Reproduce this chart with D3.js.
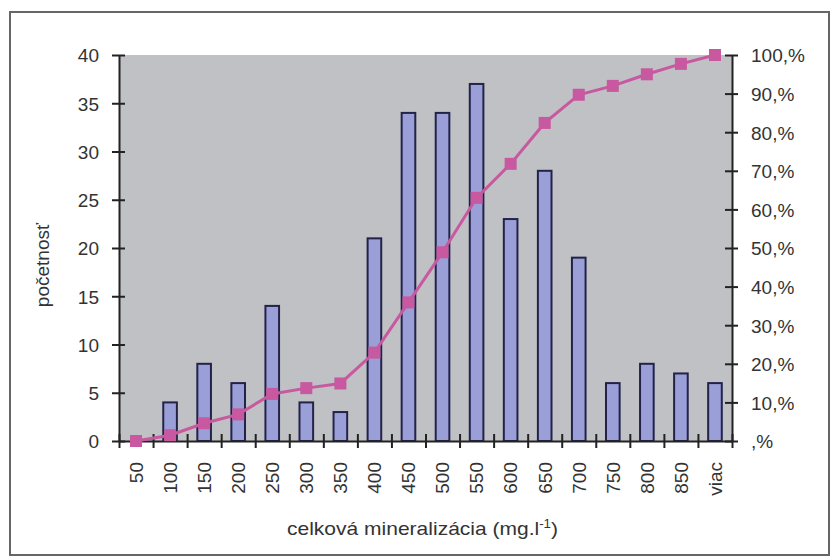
<!DOCTYPE html>
<html>
<head>
<meta charset="utf-8">
<script src="https://cdn.jsdelivr.net/npm/d3@7"></script>
<style>
  html, body { margin: 0; padding: 0; background: #fff; }
  svg { display: block; }
  text { font-family: "Liberation Sans", Arial, sans-serif; fill: #333; }
</style>
</head>
<body>
<svg id="chart" width="831" height="558"></svg>
<script>
// Histogram bins of total mineralization (mg/l)
const categories = ["50","100","150","200","250","300","350","400","450","500","550","600","650","700","750","800","850","viac"];
// Frequency per bin
const counts = [0, 4, 8, 6, 14, 4, 3, 21, 34, 34, 37, 23, 28, 19, 6, 8, 7, 6];
// Cumulative share (%)
const cumulative = [0, 1.5, 4.6, 6.9, 12.2, 13.7, 14.9, 22.9, 35.9, 48.9, 63.0, 71.8, 82.4, 89.7, 92.0, 95.0, 97.7, 100];
// Axis ticks
const leftTicks = [0, 5, 10, 15, 20, 25, 30, 35, 40];
const rightTicks = [0, 10, 20, 30, 40, 50, 60, 70, 80, 90, 100];
const rightTickLabels = [",%", "10,%", "20,%", "30,%", "40,%", "50,%", "60,%", "70,%", "80,%", "90,%", "100,%"];

const svg = d3.select("#chart");
const L = 119, R = 732, T = 55, B = 441;

// outer frame
svg.append("rect")
  .attr("x", 10).attr("y", 12).attr("width", 819).attr("height", 543)
  .attr("fill", "#fff").attr("stroke", "#666").attr("stroke-width", 2);

const x = d3.scaleBand().domain(categories).range([L, R]).paddingInner(0).paddingOuter(0);
const xIdx = d3.scaleLinear().domain([0, categories.length]).range([L, R]);
const y = d3.scaleLinear().domain([0, 40]).range([B, T]);
const y2 = d3.scaleLinear().domain([0, 100]).range([B, T]);

// plot area
svg.append("rect")
  .attr("x", L).attr("y", T).attr("width", R - L).attr("height", B - T)
  .attr("fill", "#bfc1c4");

// bars
const barW = x.bandwidth() * 0.4;
svg.append("g").selectAll("rect")
  .data(categories.map((c, i) => ({ c, v: counts[i] })).filter(d => d.v > 0))
  .join("rect")
  .attr("x", d => x(d.c) + x.bandwidth() / 2 - barW / 2)
  .attr("y", d => y(d.v))
  .attr("width", barW)
  .attr("height", d => y(0) - y(d.v))
  .attr("fill", "#9a9fd8")
  .attr("stroke", "#23234a")
  .attr("stroke-width", 2);

// left axis
const gl = svg.append("g").attr("transform", `translate(${L},0)`)
  .call(d3.axisLeft(y).tickValues(leftTicks).tickSizeOuter(0));
gl.select(".domain").attr("stroke", "#222").attr("stroke-width", 2);
gl.selectAll(".tick line").attr("x1", -7).attr("x2", 6).attr("stroke", "#222").attr("stroke-width", 2);
gl.selectAll(".tick text").attr("x", -20).attr("dy", "0.36em")
  .style("font-size", "19px").attr("fill", "#333");

// right axis
const gr = svg.append("g").attr("transform", `translate(${R},0)`)
  .call(d3.axisRight(y2).tickValues(rightTicks).tickSizeOuter(0)
    .tickFormat((d, i) => rightTickLabels[i]));
gr.select(".domain").attr("stroke", "#222").attr("stroke-width", 2);
gr.selectAll(".tick line").attr("x1", -7).attr("x2", 6).attr("stroke", "#222").attr("stroke-width", 2);
gr.selectAll(".tick text").attr("x", 19).attr("dy", "0.36em")
  .style("font-size", "19px").attr("fill", "#333");

// bottom axis: tick marks at bin boundaries
const gb = svg.append("g").attr("transform", `translate(0,${B})`)
  .call(d3.axisBottom(xIdx).tickValues(d3.range(0, categories.length + 1)).tickFormat("").tickSizeOuter(0));
gb.select(".domain").attr("stroke", "#222").attr("stroke-width", 2);
gb.selectAll(".tick line").attr("y1", -7).attr("y2", 7).attr("stroke", "#222").attr("stroke-width", 2);

// bottom labels, rotated
const gbl = svg.append("g").attr("transform", `translate(0,${B})`)
  .call(d3.axisBottom(x).tickSize(0));
gbl.select(".domain").remove();
gbl.selectAll(".tick text")
  .attr("y", 0).attr("dy", "0.36em")
  .attr("transform", "translate(0,21) rotate(-90)")
  .attr("text-anchor", "end")
  .style("font-size", "19px").attr("fill", "#333");

// cumulative line
const cx = i => x(categories[i]) + x.bandwidth() / 2;
svg.append("path")
  .datum(cumulative)
  .attr("d", d3.line().x((d, i) => cx(i)).y(d => y2(d)))
  .attr("fill", "none").attr("stroke", "#c8589f").attr("stroke-width", 3);
const ms = 12;
svg.append("g").selectAll("rect")
  .data(cumulative)
  .join("rect")
  .attr("x", (d, i) => cx(i) - ms / 2)
  .attr("y", d => y2(d) - ms / 2)
  .attr("width", ms).attr("height", ms)
  .attr("fill", "#c8589f");

// axis titles
svg.append("text")
  .attr("transform", "translate(49,265) rotate(-90)")
  .attr("text-anchor", "middle")
  .style("font-size", "19px")
  .text("početnosť");

const xt = svg.append("text")
  .attr("x", 287).attr("y", 535)
  .attr("textLength", 271).attr("lengthAdjust", "spacingAndGlyphs")
  .style("font-size", "19px");
xt.append("tspan").text("celková mineralizácia (mg.l");
xt.append("tspan").attr("dy", -7).style("font-size", "12px").text("-1");
xt.append("tspan").attr("dy", 7).text(")");
</script>
</body>
</html>
